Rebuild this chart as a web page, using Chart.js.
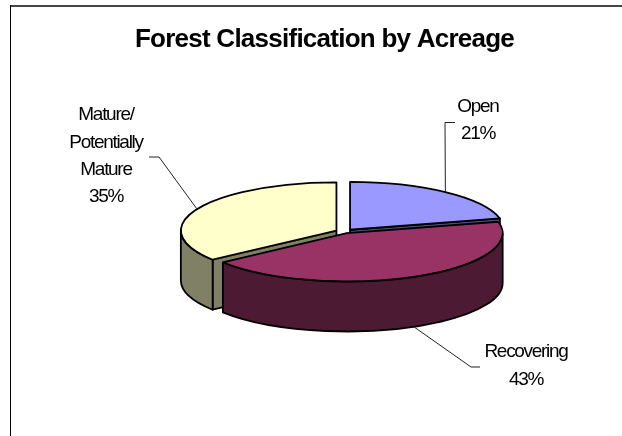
<!DOCTYPE html>
<html>
<head>
<meta charset="utf-8">
<style>html,body{margin:0;padding:0;background:#fff;overflow:hidden}canvas{display:block}</style>
<script src="https://cdn.jsdelivr.net/npm/chart.js@4"></script>
</head>
<body>
<canvas id="c" width="622" height="436"></canvas>
<script>
const titleText = 'Forest Classification by Acreage';
const categories = ['Open', 'Recovering', 'Mature/ Potentially Mature'];
const values = [21, 43, 35];
const labelLines = [['Open', '21%'], ['Recovering', '43%'], ['Mature/', 'Potentially', 'Mature', '35%']];
const topColors = ['#9999FF', '#993366', '#FFFFCC'];
const sideColors = ['#4D4D80', '#4D1A33', '#808066'];
const explodeOffsets = [33, 12, 31];

const view = { cx: 344.8, cy: 231.8, radius: 154, squash: 0.31, depth: 50 };
const labelBoxes = [
  { x: 478, y: 107, gap: 27, elbow: [[445, 122.5], [455, 122.5]], front: false },
  { x: 526, y: 352, gap: 28, elbow: [[471, 367], [480, 367]], front: true },
  { x: 106, y: 115, gap: 27.3, elbow: [[159, 157], [149, 157]], front: false }
];

// Same geometry the library's ArcElement uses when it draws an offset slice.
function geom(el) {
  const h = (el.startAngle + el.endAngle) / 2;
  const base = (el.options.offset || 0) / 4;
  const fix = 1 - Math.sin(Math.min(Math.PI, el.circumference));
  const d = base * (1 + fix);
  const R = el.outerRadius + base * fix, k = view.squash;
  const ex = view.cx + Math.cos(h) * d;
  const ey = view.cy + Math.sin(h) * d * k;
  return { h, R, k, ex, ey, ry: R * k,
    rim: a => [ex + R * Math.cos(a), ey + R * k * Math.sin(a)] };
}

const pie3d = {
  id: 'pie3d',
  beforeDraw(chart) {
    const ctx = chart.ctx;
    ctx.save();
    ctx.fillStyle = '#fff';
    ctx.fillRect(0, 0, chart.width, chart.height);
    ctx.fillStyle = '#444';
    ctx.fillRect(10, 5, chart.width - 10, 2);
    ctx.fillStyle = '#000';
    ctx.fillRect(10, 5, 1, chart.height - 5);
    ctx.restore();
    ctx.letterSpacing = '-0.75px';
  },
  beforeDatasetsDraw(chart) {
    const ctx = chart.ctx, D = view.depth;
    const arcs = chart.getDatasetMeta(0).data;
    const order = arcs.map((el, i) => i).sort((a, b) =>
      Math.sin((arcs[a].startAngle + arcs[a].endAngle) / 2) - Math.sin((arcs[b].startAngle + arcs[b].endAngle) / 2));
    ctx.save();
    ctx.lineWidth = 1.8;
    ctx.strokeStyle = '#000';
    ctx.lineJoin = 'round';
    order.forEach(i => {
      const el = arcs[i], g = geom(el);
      ctx.fillStyle = sideColors[i];
      [[el.startAngle, Math.cos(el.startAngle) < 0], [el.endAngle, Math.cos(el.endAngle) > 0]].forEach(([a, vis]) => {
        if (!vis) return;
        const p = g.rim(a);
        ctx.beginPath();
        ctx.moveTo(g.ex, g.ey);
        ctx.lineTo(p[0], p[1]);
        ctx.lineTo(p[0], p[1] + D);
        ctx.lineTo(g.ex, g.ey + D);
        ctx.closePath();
        ctx.fill();
        ctx.stroke();
      });
      const a0 = Math.max(el.startAngle, 0), a1 = Math.min(el.endAngle, Math.PI);
      if (a1 > a0) {
        ctx.beginPath();
        ctx.ellipse(g.ex, g.ey, g.R, g.ry, 0, a0, a1);
        ctx.ellipse(g.ex, g.ey + D, g.R, g.ry, 0, a1, a0, true);
        ctx.closePath();
        ctx.fill();
        ctx.stroke();
      }
    });
    ctx.restore();
  },
  beforeDatasetDraw(chart) {
    const ctx = chart.ctx, el = chart.getDatasetMeta(0).data[0];
    ctx.save();
    ctx.translate(view.cx, view.cy);
    ctx.scale(1, view.squash);
    ctx.translate(-el.x, -el.y);
  },
  afterDatasetDraw(chart) {
    chart.ctx.restore();
  },
  afterDatasetsDraw(chart) {
    const ctx = chart.ctx;
    const arcs = chart.getDatasetMeta(0).data;
    ctx.save();
    ctx.strokeStyle = '#000';
    ctx.lineWidth = 1.8;
    ctx.lineJoin = 'round';
    arcs.forEach(el => {
      const g = geom(el);
      ctx.beginPath();
      ctx.moveTo(g.ex, g.ey);
      ctx.ellipse(g.ex, g.ey, g.R, g.ry, 0, el.startAngle, el.endAngle);
      ctx.closePath();
      ctx.stroke();
    });
    ctx.lineWidth = 1;
    ctx.strokeStyle = '#222';
    ctx.fillStyle = '#000';
    ctx.letterSpacing = '-1.3px';
    ctx.font = '19px "Liberation Sans", Arial, sans-serif';
    ctx.textAlign = 'center';
    ctx.textBaseline = 'middle';
    arcs.forEach((el, i) => {
      const g = geom(el), b = labelBoxes[i];
      const s = g.rim(g.h);
      ctx.beginPath();
      ctx.moveTo(s[0], s[1] + (b.front ? view.depth : 0));
      b.elbow.forEach(p => ctx.lineTo(p[0], p[1]));
      ctx.stroke();
      labelLines[i].forEach((t, j) => ctx.fillText(t, b.x, b.y + j * b.gap));
    });
    ctx.restore();
    ctx.letterSpacing = '0px';
  }
};

new Chart(document.getElementById('c'), {
  type: 'pie',
  data: {
    labels: categories,
    datasets: [{
      data: values,
      backgroundColor: topColors,
      borderWidth: 0,
      offset: explodeOffsets,
      clip: false
    }]
  },
  options: {
    responsive: false,
    animation: false,
    events: [],
    radius: view.radius,
    devicePixelRatio: 1,
    layout: { padding: { left: 27, top: 24 } },
    plugins: {
      legend: { display: false },
      tooltip: { enabled: false },
      title: {
        display: true,
        text: titleText,
        color: '#000',
        padding: 0,
        font: { family: '"Liberation Sans", Arial, sans-serif', size: 26, weight: 'bold', lineHeight: 1.2 }
      }
    }
  },
  plugins: [pie3d]
});
</script>
</body>
</html>
